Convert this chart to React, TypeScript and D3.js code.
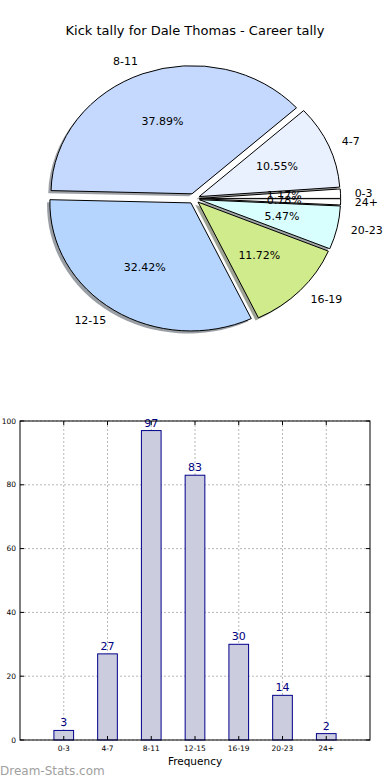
import React from "react";
import * as d3 from "d3";

const categories = ["0-3", "4-7", "8-11", "12-15", "16-19", "20-23", "24+"];
const counts = [3, 27, 97, 83, 30, 14, 2];
const pieColors = ["#ffffff", "#eaf1fe", "#c5d9fe", "#b5d5fe", "#d0eb8b", "#d9fefe", "#ffffff"];
const yTicks = [0, 20, 40, 60, 80, 100];
const titleText = "Kick tally for Dale Thomas - Career tally";

const FONT = "DejaVu Sans, Verdana, sans-serif";

function Pie() {
  const cx = 194, cy = 198.6, Rx = 141, Ry = 128, explode = 0.04;
  const total = d3.sum(counts);
  const arcs = d3.pie<number>().sort(null).startAngle(Math.PI / 2).endAngle(Math.PI / 2 - 2 * Math.PI)(counts);
  const arcGen = d3.arc<any>().innerRadius(0).outerRadius(1);
  const items = arcs.map((a, i) => {
    const m = (a.startAngle + a.endAngle) / 2;
    const ux = Math.sin(m), uy = -Math.cos(m);
    const ox = cx + explode * Rx * ux;
    const oy = cy + explode * Ry * uy;
    return { a, i, ux, uy, ox, oy, d: arcGen({ startAngle: a.startAngle, endAngle: a.endAngle }) as string };
  });
  const shadowColor = (c: string) => {
    const r = d3.rgb(c);
    return d3.rgb(r.r * 0.3, r.g * 0.3, r.b * 0.3).toString();
  };
  return (
    <g>
      {items.map(it => (
        <path key={"s" + it.i} d={it.d}
          transform={`translate(${it.ox - 0.02 * Rx},${it.oy + 0.02 * Ry}) scale(${Rx},${Ry})`}
          fill={shadowColor(pieColors[it.i])} opacity={0.5} stroke="none" />
      ))}
      {items.map(it => (
        <path key={"w" + it.i} d={it.d}
          transform={`translate(${it.ox},${it.oy}) scale(${Rx},${Ry})`}
          fill={pieColors[it.i]} stroke="#000" strokeWidth={1} vectorEffect="non-scaling-stroke"
          strokeLinejoin="miter" />
      ))}
      {items.map(it => (
        <text key={"l" + it.i} x={it.ox + 1.1 * Rx * it.ux} y={it.oy + 1.1 * Ry * it.uy}
          textAnchor={it.ux > 0 ? "start" : "end"} dominantBaseline="central"
          fontFamily={FONT} fontSize={11} fill="#000">{categories[it.i]}</text>
      ))}
      {items.map(it => (
        <text key={"p" + it.i} x={it.ox + 0.6 * Rx * it.ux} y={it.oy + 0.6 * Ry * it.uy}
          textAnchor="middle" dominantBaseline="central"
          fontFamily={FONT} fontSize={11} fill="#000">{(counts[it.i] / total * 100).toFixed(2) + "%"}</text>
      ))}
    </g>
  );
}

function Bars() {
  const left = 20, right = 370, top = 421, bottom = 740;
  const x = d3.scaleLinear().domain([-1, categories.length]).range([left, right]);
  const y = d3.scaleLinear().domain([0, 100]).range([bottom, top]);
  const bw = (x(0.45) - x(0));
  const tick = 4;
  return (
    <g>
      {categories.map((c, i) => (
        <line key={"gx" + i} x1={x(i)} x2={x(i)} y1={top} y2={bottom} stroke="#b8b8b8" strokeDasharray="2,2" />
      ))}
      {yTicks.map(t => (
        <line key={"gy" + t} x1={left} x2={right} y1={y(t)} y2={y(t)} stroke="#b8b8b8" strokeDasharray="2,2" />
      ))}
      {counts.map((v, i) => (
        <rect key={"b" + i} x={x(i) - bw / 2} y={y(v)} width={bw} height={y(0) - y(v)}
          fill="#ccccdf" stroke="#00008b" strokeWidth={1} />
      ))}
      {counts.map((v, i) => (
        <text key={"v" + i} x={x(i)} y={y(v) - 4} textAnchor="middle" fontFamily={FONT} fontSize={11} fill="#000080">{v}</text>
      ))}
      <rect x={left} y={top} width={right - left} height={bottom - top} fill="none" stroke="#000" strokeWidth={1} />
      {categories.map((c, i) => (
        <g key={"tx" + i}>
          <line x1={x(i)} x2={x(i)} y1={bottom} y2={bottom - tick} stroke="#000" />
          <line x1={x(i)} x2={x(i)} y1={top} y2={top + tick} stroke="#000" />
          <text x={x(i)} y={bottom + 8} textAnchor="middle" dominantBaseline="central" fontFamily={FONT} fontSize={7.5} fill="#000">{c}</text>
        </g>
      ))}
      {yTicks.map(t => (
        <g key={"ty" + t}>
          <line x1={left} x2={left + tick} y1={y(t)} y2={y(t)} stroke="#000" />
          <line x1={right} x2={right - tick} y1={y(t)} y2={y(t)} stroke="#000" />
          <text x={left - 4} y={y(t)} textAnchor="end" dominantBaseline="central" fontFamily={FONT} fontSize={7.5} fill="#000">{t}</text>
        </g>
      ))}
      <text x={(left + right) / 2} y={761} textAnchor="middle" dominantBaseline="central" fontFamily={FONT} fontSize={10.5} fill="#000">Frequency</text>
    </g>
  );
}

export default function App() {
  return (
    <svg width={390} height={780} style={{ position: "absolute", left: 0, top: 0, background: "#fff" }}>
      <rect x={0} y={0} width={390} height={780} fill="#fff" />
      <text x={195} y={30} textAnchor="middle" dominantBaseline="central" fontFamily={FONT} fontSize={13} fill="#000">{titleText}</text>
      <Pie />
      <Bars />
      <text x={0} y={775} fontFamily={FONT} fontSize={12} fill="#a0a0a0">Dream-Stats.com</text>
    </svg>
  );
}
